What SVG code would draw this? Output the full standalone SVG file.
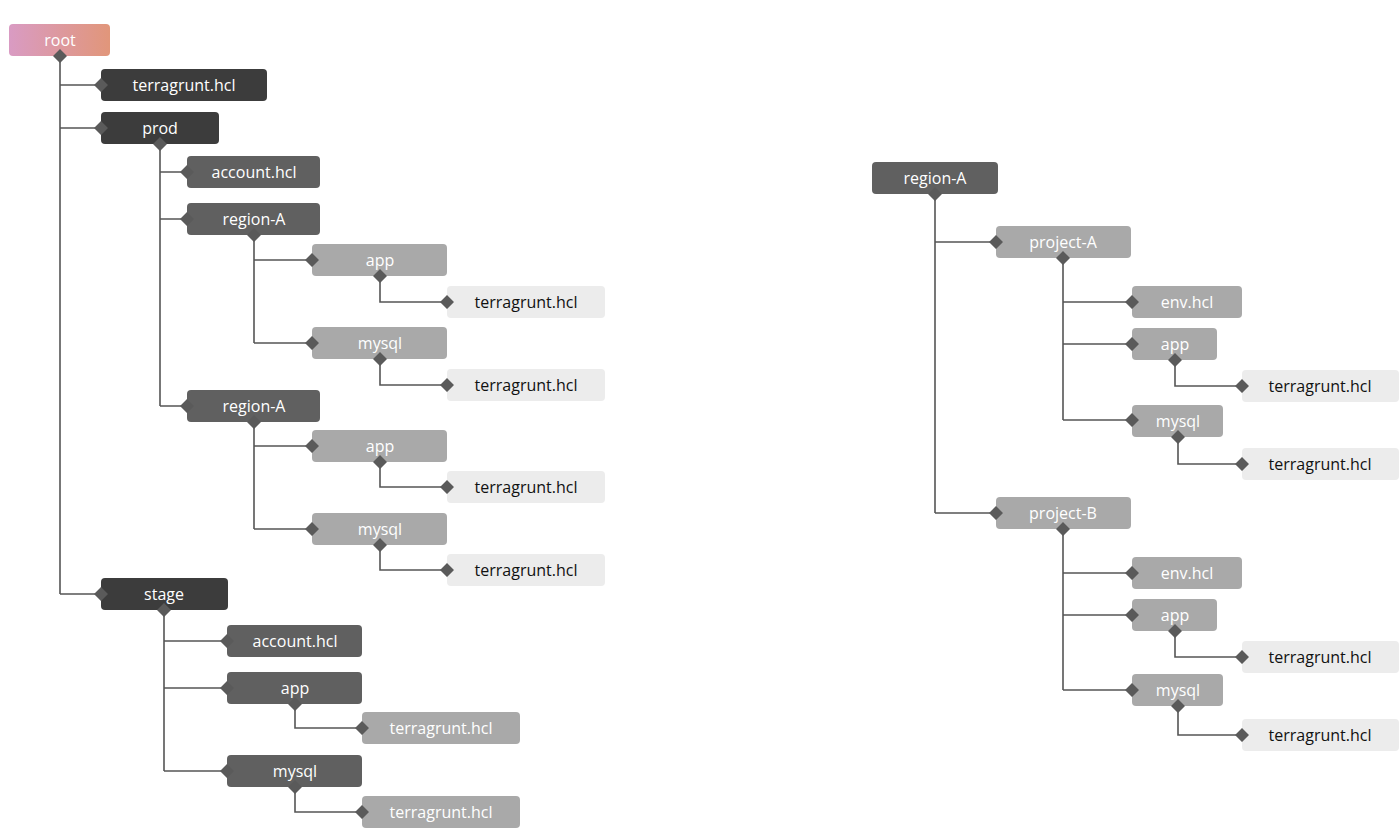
<svg xmlns="http://www.w3.org/2000/svg" width="1400" height="831" viewBox="0 0 1400 831">
<defs>
<linearGradient id="g" x1="0" x2="1" y1="0" y2="0"><stop offset="0" stop-color="#d99bc3"/><stop offset="1" stop-color="#e1967a"/></linearGradient>
<style>
text{font-family:"Open Sans","Noto Sans",sans-serif;font-size:16px;text-anchor:middle;dominant-baseline:central}
.d rect{fill:#3c3c3c}.m rect{fill:#606060}.l rect{fill:#a9a9a9}.w rect{fill:#ececec}
.d text,.m text,.l text,.r text{fill:#fff}.w text{fill:#111}
#conn path{fill:none;stroke:#555;stroke-width:1.6}
.dm{fill:#5a5a5a}
</style>
</defs>
<rect width="1400" height="831" fill="#fff"/>
<g id="conn">
<path d="M60 56V594M60 85H101M60 128H101M60 594H101"/>
<path d="M160 144V406M160 172H187M160 219H187M160 406H187"/>
<path d="M254 235V343M254 260H312M254 343H312M380 276V302H447M380 359V385H447"/>
<path d="M254 422V529M254 446H312M254 529H312M380 462V487H447M380 545V570H447"/>
<path d="M164 610V771M164 641H227M164 688H227M164 771H227M295 704V728H362M295 787V812H362"/>
<path d="M935 194V513M935 242H996M935 513H996"/>
<path d="M1063 258V420M1063 302H1132M1063 344H1132M1063 420H1132M1175 360V386H1242M1178 437V464H1242"/>
<path d="M1063 529V690M1063 573H1132M1063 615H1132M1063 690H1132M1175 631V657H1242M1178 706V735H1242"/>
</g>
<g id="n-root"><rect x="9" y="24" width="101" height="32" rx="4" fill="url(#g)"/><text x="60" y="40" fill="#fff">root</text></g>
<g id="n1" class="d"><rect x="101" y="69" width="166" height="32" rx="4"/><text x="184" y="85">terragrunt.hcl</text></g>
<g id="n2" class="d"><rect x="101" y="112" width="118" height="32" rx="4"/><text x="160" y="128">prod</text></g>
<g id="n3" class="m"><rect x="187" y="156" width="133" height="32" rx="4"/><text x="254" y="172">account.hcl</text></g>
<g id="n4" class="m"><rect x="187" y="203" width="133" height="32" rx="4"/><text x="254" y="219">region-A</text></g>
<g id="n5" class="l"><rect x="312" y="244" width="135" height="32" rx="4"/><text x="380" y="260">app</text></g>
<g id="n6" class="w"><rect x="447" y="286" width="158" height="32" rx="4"/><text x="526" y="302">terragrunt.hcl</text></g>
<g id="n7" class="l"><rect x="312" y="327" width="135" height="32" rx="4"/><text x="380" y="343">mysql</text></g>
<g id="n8" class="w"><rect x="447" y="369" width="158" height="32" rx="4"/><text x="526" y="385">terragrunt.hcl</text></g>
<g id="n9" class="m"><rect x="187" y="390" width="133" height="32" rx="4"/><text x="254" y="406">region-A</text></g>
<g id="n10" class="l"><rect x="312" y="430" width="135" height="32" rx="4"/><text x="380" y="446">app</text></g>
<g id="n11" class="w"><rect x="447" y="471" width="158" height="32" rx="4"/><text x="526" y="487">terragrunt.hcl</text></g>
<g id="n12" class="l"><rect x="312" y="513" width="135" height="32" rx="4"/><text x="380" y="529">mysql</text></g>
<g id="n13" class="w"><rect x="447" y="554" width="158" height="32" rx="4"/><text x="526" y="570">terragrunt.hcl</text></g>
<g id="n14" class="d"><rect x="101" y="578" width="127" height="32" rx="4"/><text x="164" y="594">stage</text></g>
<g id="n15" class="m"><rect x="227" y="625" width="135" height="32" rx="4"/><text x="295" y="641">account.hcl</text></g>
<g id="n16" class="m"><rect x="227" y="672" width="135" height="32" rx="4"/><text x="295" y="688">app</text></g>
<g id="n17" class="l"><rect x="362" y="712" width="158" height="32" rx="4"/><text x="441" y="728">terragrunt.hcl</text></g>
<g id="n18" class="m"><rect x="227" y="755" width="135" height="32" rx="4"/><text x="295" y="771">mysql</text></g>
<g id="n19" class="l"><rect x="362" y="796" width="158" height="32" rx="4"/><text x="441" y="812">terragrunt.hcl</text></g>
<g id="r0" class="m"><rect x="872" y="162" width="126" height="32" rx="4"/><text x="935" y="178">region-A</text></g>
<g id="r1" class="l"><rect x="996" y="226" width="135" height="32" rx="4"/><text x="1063" y="242">project-A</text></g>
<g id="r2" class="l"><rect x="1132" y="286" width="110" height="32" rx="4"/><text x="1187" y="302">env.hcl</text></g>
<g id="r3" class="l"><rect x="1132" y="328" width="85" height="32" rx="4"/><text x="1175" y="344">app</text></g>
<g id="r4" class="w"><rect x="1242" y="370" width="157" height="32" rx="4"/><text x="1320" y="386">terragrunt.hcl</text></g>
<g id="r5" class="l"><rect x="1132" y="405" width="91" height="32" rx="4"/><text x="1178" y="421">mysql</text></g>
<g id="r6" class="w"><rect x="1242" y="448" width="157" height="32" rx="4"/><text x="1320" y="464">terragrunt.hcl</text></g>
<g id="r7" class="l"><rect x="996" y="497" width="135" height="32" rx="4"/><text x="1063" y="513">project-B</text></g>
<g id="r8" class="l"><rect x="1132" y="557" width="110" height="32" rx="4"/><text x="1187" y="573">env.hcl</text></g>
<g id="r9" class="l"><rect x="1132" y="599" width="85" height="32" rx="4"/><text x="1175" y="615">app</text></g>
<g id="r10" class="w"><rect x="1242" y="641" width="157" height="32" rx="4"/><text x="1320" y="657">terragrunt.hcl</text></g>
<g id="r11" class="l"><rect x="1132" y="674" width="91" height="32" rx="4"/><text x="1178" y="690">mysql</text></g>
<g id="r12" class="w"><rect x="1242" y="719" width="157" height="32" rx="4"/><text x="1320" y="735">terragrunt.hcl</text></g>
<g id="diamonds" class="dm">
<path d="M60 49l7 7-7 7-7-7zM101 78l7 7-7 7-7-7zM101 121l7 7-7 7-7-7zM101 587l7 7-7 7-7-7z"/>
<path d="M160 137l7 7-7 7-7-7zM187 165l7 7-7 7-7-7zM187 212l7 7-7 7-7-7zM187 399l7 7-7 7-7-7z"/>
<path d="M254 228l7 7-7 7-7-7zM312 253l7 7-7 7-7-7zM312 336l7 7-7 7-7-7zM380 269l7 7-7 7-7-7zM447 295l7 7-7 7-7-7zM380 352l7 7-7 7-7-7zM447 378l7 7-7 7-7-7z"/>
<path d="M254 415l7 7-7 7-7-7zM312 439l7 7-7 7-7-7zM312 522l7 7-7 7-7-7zM380 455l7 7-7 7-7-7zM447 480l7 7-7 7-7-7zM380 538l7 7-7 7-7-7zM447 563l7 7-7 7-7-7z"/>
<path d="M164 603l7 7-7 7-7-7zM227 634l7 7-7 7-7-7zM227 681l7 7-7 7-7-7zM227 764l7 7-7 7-7-7zM295 697l7 7-7 7-7-7zM362 721l7 7-7 7-7-7zM295 780l7 7-7 7-7-7zM362 805l7 7-7 7-7-7z"/>
<path d="M935 187l7 7-7 7-7-7zM996 235l7 7-7 7-7-7zM996 506l7 7-7 7-7-7z"/>
<path d="M1063 251l7 7-7 7-7-7zM1132 295l7 7-7 7-7-7zM1132 337l7 7-7 7-7-7zM1132 413l7 7-7 7-7-7zM1175 353l7 7-7 7-7-7zM1242 379l7 7-7 7-7-7zM1178 430l7 7-7 7-7-7zM1242 457l7 7-7 7-7-7z"/>
<path d="M1063 522l7 7-7 7-7-7zM1132 566l7 7-7 7-7-7zM1132 608l7 7-7 7-7-7zM1132 683l7 7-7 7-7-7zM1175 624l7 7-7 7-7-7zM1242 650l7 7-7 7-7-7zM1178 699l7 7-7 7-7-7zM1242 728l7 7-7 7-7-7z"/>
</g>
</svg>
